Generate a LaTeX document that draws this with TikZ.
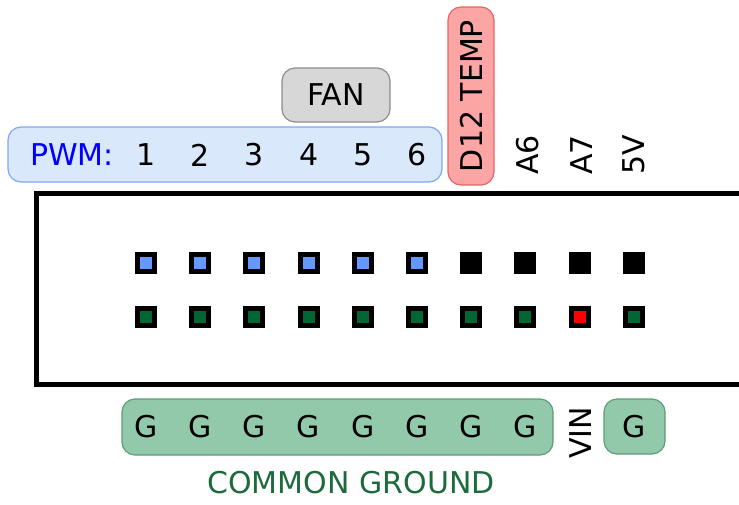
\documentclass[tikz,border=0pt]{standalone}
\usepackage{fontspec}
\setmainfont{DejaVu Sans}
\usepackage{tikz}
\usetikzlibrary{positioning}
\definecolor{pwmfill}{HTML}{DAE8FC}
\definecolor{pwmline}{HTML}{7EA6F8}
\definecolor{fanfill}{HTML}{D7D7D7}
\definecolor{fanline}{HTML}{8C8C8C}
\definecolor{tempfill}{HTML}{FCA5A5}
\definecolor{templine}{HTML}{E86464}
\definecolor{gndfill}{HTML}{93C9AB}
\definecolor{gndline}{HTML}{5E9C78}
\definecolor{gndtext}{HTML}{1D6B3D}
\definecolor{pinblue}{HTML}{6699FF}
\definecolor{pingreen}{HTML}{006633}
\tikzset{
  tag/.style={rounded corners=13pt,line width=1.2pt,inner sep=0pt},
  lbl/.style={font=\fontsize{30}{34}\selectfont,inner sep=0pt},
  pin/.style={draw=black,line width=5pt,minimum size=17pt,inner sep=0pt},
}

\begin{document}
\begin{tikzpicture}[x=1pt,y=-1pt]
			\useasboundingbox (0,0) rectangle (739,504);
			% header boxes
			\node[tag,draw=pwmline,fill=pwmfill,minimum width=434pt,minimum height=55pt] (pwmbox) at (225,154.5) {};
			\node[tag,draw=fanline,fill=fanfill,minimum width=108pt,minimum height=54pt,lbl] (fan) at (336,95) {FAN};
			\node[tag,draw=templine,fill=tempfill,rotate=90,minimum width=178pt,minimum height=46pt,lbl] (temp) at (471,96) {D12 TEMP};
			\node[lbl,text=blue] (pwm) at (72,155) {PWM:};
			\foreach \i in {1,...,6}
				\node[lbl] (d\i) at ({146+54.2*(\i-1)},155) {\i};
			\node[lbl,rotate=90,anchor=west] (a6) at (528,175) {A6};
			\node[lbl,rotate=90,anchor=west] (a7) at (582,175) {A7};
			\node[lbl,rotate=90,anchor=west] (v5) at (634,175) {5V};
			% board outline
			\draw[line width=5pt] (745,193.5) -- (36.5,193.5) -- (36.5,384.5) -- (745,384.5);
			% header pins
			\foreach \i in {1,...,6}
				\node[pin,fill=pinblue] (p\i) at ({146+54.2*(\i-1)},263) {};
			\foreach \i in {7,...,10}
				\node[pin,fill=black] (p\i) at ({146+54.2*(\i-1)},263) {};
			\foreach \i in {1,...,10}
				\node[pin,fill=pingreen] (g\i) at ({146+54.2*(\i-1)},317) {};
			\node[pin,fill=red] (vin) at (g9) {};
			% ground boxes
			\node[tag,draw=gndline,fill=gndfill,minimum width=431pt,minimum height=56pt] (gndbox) at (337.5,427) {};
			\foreach \i in {1,...,8}
				\node[lbl] (gl\i) at ({146+54.2*(\i-1)},427) {G};
			\node[lbl,rotate=90] (vinlbl) at (581,433) {VIN};
			\node[tag,draw=gndline,fill=gndfill,minimum width=61pt,minimum height=55pt,lbl] (gnd2) at (634.5,426.5) {G};
			\node[lbl,text=gndtext] (common) at (351,483) {COMMON GROUND};
		\end{tikzpicture}
\end{document}
